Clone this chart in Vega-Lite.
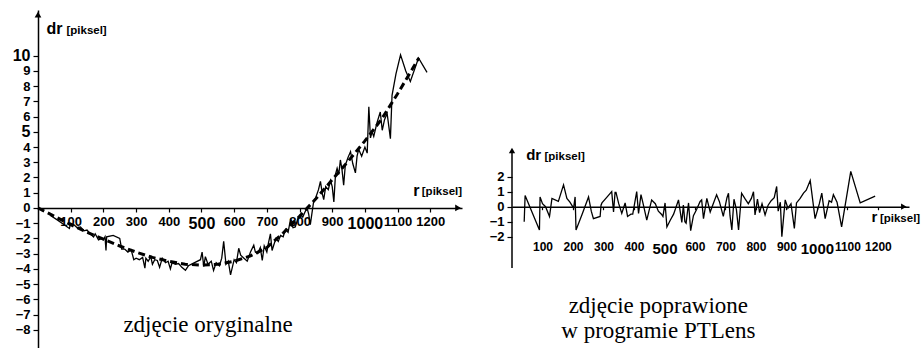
{
  "$schema": "https://vega.github.io/schema/vega-lite/v6.json",
  "padding": {"left": 12, "top": 10, "right": 0, "bottom": 0},
  "spacing": 26,
  "background": "white",
  "config": {
    "view": {"stroke": null},
    "axis": {"domainColor": "black", "tickColor": "black", "labelColor": "black", "labelFont": "Liberation Sans", "labelFontWeight": "bold", "grid": false, "title": null, "domainWidth": 1.5, "tickWidth": 1.2, "labelOverlap": false, "labelFlush": false, "format": "d", "tickCount": 40}
  },
  "datasets": {
    "trend": [
      {"r": 0, "dr": 0}, {"r": 50, "dr": -0.55}, {"r": 100, "dr": -1.1}, {"r": 150, "dr": -1.6}, {"r": 200, "dr": -2.05},
      {"r": 250, "dr": -2.5}, {"r": 300, "dr": -2.9}, {"r": 350, "dr": -3.25}, {"r": 400, "dr": -3.5}, {"r": 450, "dr": -3.7},
      {"r": 500, "dr": -3.75}, {"r": 550, "dr": -3.7}, {"r": 600, "dr": -3.5}, {"r": 650, "dr": -3.15}, {"r": 700, "dr": -2.6},
      {"r": 750, "dr": -1.65}, {"r": 800, "dr": -0.55}, {"r": 850, "dr": 0.6}, {"r": 900, "dr": 1.85}, {"r": 950, "dr": 3.1},
      {"r": 1000, "dr": 4.4}, {"r": 1050, "dr": 5.8}, {"r": 1100, "dr": 7.5}, {"r": 1150, "dr": 9.3}, {"r": 1165, "dr": 9.85}
    ],
    "orig": [
      {"r": 38, "dr": -0.5}, {"r": 60, "dr": -0.8}, {"r": 80, "dr": -1.1}, {"r": 96, "dr": -1.35}, {"r": 100, "dr": -1.0},
      {"r": 110, "dr": -1.1}, {"r": 120, "dr": -1.3}, {"r": 130, "dr": -1.25}, {"r": 140, "dr": -1.5}, {"r": 150, "dr": -1.45},
      {"r": 160, "dr": -1.7}, {"r": 170, "dr": -1.9}, {"r": 175, "dr": -1.7}, {"r": 185, "dr": -2.1}, {"r": 195, "dr": -2.0},
      {"r": 200, "dr": -2.1}, {"r": 205, "dr": -1.9}, {"r": 208, "dr": -2.8}, {"r": 210, "dr": -1.9}, {"r": 230, "dr": -1.8},
      {"r": 250, "dr": -2.0}, {"r": 256, "dr": -2.7}, {"r": 265, "dr": -2.7}, {"r": 275, "dr": -2.9}, {"r": 285, "dr": -2.75},
      {"r": 293, "dr": -3.4}, {"r": 300, "dr": -3.3}, {"r": 310, "dr": -3.4}, {"r": 320, "dr": -3.25}, {"r": 327, "dr": -3.95},
      {"r": 330, "dr": -3.3}, {"r": 337, "dr": -3.5}, {"r": 345, "dr": -3.2}, {"r": 350, "dr": -3.7}, {"r": 357, "dr": -3.4},
      {"r": 365, "dr": -3.45}, {"r": 372, "dr": -3.9}, {"r": 380, "dr": -3.3}, {"r": 390, "dr": -3.6}, {"r": 398, "dr": -3.5},
      {"r": 405, "dr": -4.0}, {"r": 410, "dr": -3.6}, {"r": 420, "dr": -3.7}, {"r": 430, "dr": -3.65}, {"r": 440, "dr": -3.9},
      {"r": 451, "dr": -4.1}, {"r": 460, "dr": -3.8}, {"r": 497, "dr": -3.4}, {"r": 502, "dr": -2.9}, {"r": 507, "dr": -3.85},
      {"r": 512, "dr": -3.2}, {"r": 520, "dr": -3.7}, {"r": 530, "dr": -3.5}, {"r": 537, "dr": -4.1}, {"r": 545, "dr": -3.6},
      {"r": 555, "dr": -3.8}, {"r": 562, "dr": -3.3}, {"r": 568, "dr": -2.2}, {"r": 575, "dr": -3.7}, {"r": 582, "dr": -3.5},
      {"r": 589, "dr": -4.4}, {"r": 600, "dr": -3.4}, {"r": 607, "dr": -3.6}, {"r": 614, "dr": -2.65}, {"r": 620, "dr": -3.1},
      {"r": 630, "dr": -3.3}, {"r": 640, "dr": -3.5}, {"r": 650, "dr": -2.9}, {"r": 660, "dr": -2.45}, {"r": 665, "dr": -2.9},
      {"r": 672, "dr": -3.0}, {"r": 680, "dr": -2.6}, {"r": 686, "dr": -3.45}, {"r": 692, "dr": -2.5}, {"r": 700, "dr": -2.9},
      {"r": 705, "dr": -2.3}, {"r": 711, "dr": -1.7}, {"r": 716, "dr": -2.8}, {"r": 721, "dr": -2.45}, {"r": 728, "dr": -2.0},
      {"r": 735, "dr": -2.2}, {"r": 742, "dr": -1.8}, {"r": 750, "dr": -1.9}, {"r": 757, "dr": -1.4}, {"r": 765, "dr": -1.6},
      {"r": 772, "dr": -0.8}, {"r": 780, "dr": -1.3}, {"r": 787, "dr": -1.25}, {"r": 795, "dr": -0.7}, {"r": 803, "dr": -0.45},
      {"r": 810, "dr": -0.6}, {"r": 816, "dr": -0.3}, {"r": 823, "dr": 0.0}, {"r": 828, "dr": -0.4}, {"r": 833, "dr": -1.1},
      {"r": 843, "dr": 0.4}, {"r": 850, "dr": 0.7}, {"r": 858, "dr": 1.2}, {"r": 864, "dr": 1.75}, {"r": 870, "dr": 0.9},
      {"r": 874, "dr": 0.55}, {"r": 880, "dr": 1.4}, {"r": 888, "dr": 1.2}, {"r": 895, "dr": 1.8}, {"r": 900, "dr": 1.4},
      {"r": 905, "dr": 0.4}, {"r": 910, "dr": 2.2}, {"r": 915, "dr": 2.6}, {"r": 920, "dr": 2.2}, {"r": 925, "dr": 3.15},
      {"r": 930, "dr": 2.5}, {"r": 935, "dr": 1.5}, {"r": 940, "dr": 2.8}, {"r": 948, "dr": 3.3}, {"r": 956, "dr": 3.7},
      {"r": 963, "dr": 2.9}, {"r": 971, "dr": 2.3}, {"r": 976, "dr": 3.4}, {"r": 981, "dr": 3.85}, {"r": 990, "dr": 3.4},
      {"r": 1000, "dr": 4.0}, {"r": 1007, "dr": 3.6}, {"r": 1012, "dr": 6.65}, {"r": 1017, "dr": 4.6}, {"r": 1022, "dr": 5.0},
      {"r": 1027, "dr": 4.7}, {"r": 1037, "dr": 5.6}, {"r": 1047, "dr": 6.3}, {"r": 1053, "dr": 5.1}, {"r": 1060, "dr": 5.8},
      {"r": 1068, "dr": 6.2}, {"r": 1078, "dr": 4.55}, {"r": 1083, "dr": 7.4}, {"r": 1095, "dr": 8.8}, {"r": 1109, "dr": 10.05},
      {"r": 1125, "dr": 9.0}, {"r": 1139, "dr": 8.3}, {"r": 1164, "dr": 9.85}, {"r": 1190, "dr": 8.9}
    ],
    "corr": [
      {"r": 40, "dr": -1.0}, {"r": 43, "dr": 0.75}, {"r": 90, "dr": -1.55}, {"r": 92, "dr": 0.65}, {"r": 100, "dr": 0.2},
      {"r": 110, "dr": 0.0}, {"r": 123, "dr": -0.65}, {"r": 131, "dr": 0.55}, {"r": 152, "dr": 0.35}, {"r": 169, "dr": 1.45},
      {"r": 180, "dr": 0.55}, {"r": 190, "dr": 0.3}, {"r": 202, "dr": -0.1}, {"r": 207, "dr": 0.65}, {"r": 210, "dr": -1.55},
      {"r": 230, "dr": -0.5}, {"r": 251, "dr": 0.65}, {"r": 260, "dr": -0.3}, {"r": 267, "dr": -0.8}, {"r": 289, "dr": -0.65},
      {"r": 292, "dr": 0.1}, {"r": 295, "dr": 0.25}, {"r": 310, "dr": 0.6}, {"r": 327, "dr": 1.0}, {"r": 333, "dr": -0.35},
      {"r": 338, "dr": 0.95}, {"r": 341, "dr": 0.95}, {"r": 350, "dr": 0.2}, {"r": 360, "dr": -0.45}, {"r": 371, "dr": 0.25},
      {"r": 379, "dr": -0.65}, {"r": 390, "dr": -0.5}, {"r": 396, "dr": -0.5}, {"r": 409, "dr": 1.0}, {"r": 415, "dr": -0.45},
      {"r": 423, "dr": 0.8}, {"r": 430, "dr": 0.2}, {"r": 442, "dr": -0.9}, {"r": 458, "dr": 0.45}, {"r": 470, "dr": 0.2},
      {"r": 480, "dr": -0.3}, {"r": 490, "dr": -0.5}, {"r": 495, "dr": -0.65}, {"r": 502, "dr": 0.25}, {"r": 508, "dr": -1.35},
      {"r": 519, "dr": -0.9}, {"r": 530, "dr": -0.5}, {"r": 546, "dr": 0.45}, {"r": 553, "dr": -0.5}, {"r": 557, "dr": -1.05},
      {"r": 562, "dr": 0.1}, {"r": 567, "dr": -1.0}, {"r": 571, "dr": -1.1}, {"r": 579, "dr": 0.25}, {"r": 586, "dr": -1.6},
      {"r": 595, "dr": -0.6}, {"r": 605, "dr": -0.2}, {"r": 617, "dr": 0.35}, {"r": 622, "dr": 0.45}, {"r": 628, "dr": -0.8},
      {"r": 639, "dr": 0.55}, {"r": 650, "dr": -0.35}, {"r": 660, "dr": 0.2}, {"r": 671, "dr": 0.8}, {"r": 680, "dr": 0.35},
      {"r": 693, "dr": -0.65}, {"r": 700, "dr": 0.1}, {"r": 705, "dr": 0.6}, {"r": 710, "dr": 0.9}, {"r": 715, "dr": -0.6},
      {"r": 721, "dr": -1.55}, {"r": 728, "dr": 0.5}, {"r": 736, "dr": -0.2}, {"r": 743, "dr": -1.55}, {"r": 753, "dr": 0.9},
      {"r": 765, "dr": 0.5}, {"r": 775, "dr": 0.2}, {"r": 785, "dr": 0.55}, {"r": 792, "dr": 1.0}, {"r": 797, "dr": -0.55},
      {"r": 805, "dr": 0.5}, {"r": 812, "dr": -0.4}, {"r": 820, "dr": 0.2}, {"r": 830, "dr": -0.55}, {"r": 840, "dr": 0.1},
      {"r": 850, "dr": 0.4}, {"r": 860, "dr": 0.6}, {"r": 868, "dr": 1.35}, {"r": 873, "dr": -0.3}, {"r": 880, "dr": 0.3},
      {"r": 885, "dr": -2.0}, {"r": 896, "dr": 0.45}, {"r": 905, "dr": -0.1}, {"r": 915, "dr": 0.2}, {"r": 926, "dr": -1.45},
      {"r": 933, "dr": 0.25}, {"r": 945, "dr": 0.55}, {"r": 956, "dr": 0.9}, {"r": 965, "dr": 1.1}, {"r": 978, "dr": 1.75},
      {"r": 994, "dr": -0.8}, {"r": 1008, "dr": 0.2}, {"r": 1016, "dr": 0.9}, {"r": 1027, "dr": -0.8}, {"r": 1040, "dr": 0.4},
      {"r": 1048, "dr": 0.3}, {"r": 1054, "dr": 0.8}, {"r": 1066, "dr": 0.3}, {"r": 1081, "dr": -1.35}, {"r": 1111, "dr": 2.35},
      {"r": 1142, "dr": 0.25}, {"r": 1191, "dr": 0.7}
    ]
  },
  "hconcat": [
    {
      "width": 424,
      "height": 338,
      "layer": [
        {
          "data": {"name": "trend"},
          "mark": {"type": "line", "color": "black", "strokeWidth": 3, "strokeDash": [7, 4]},
          "encoding": {
            "x": {"field": "r", "type": "quantitative", "scale": {"domain": [0, 1297], "nice": false, "zero": false},
              "axis": {"orient": "bottom", "offset": -140, "values": [100, 200, 300, 400, 500, 600, 700, 800, 900, 1000, 1100, 1200], "tickCount": 40, "tickSize": 4, "labelPadding": 3, "labelOverlap": false,
                "labelFontSize": {"condition": {"test": "datum.value === 500 || datum.value === 1000", "value": 16}, "value": 13}}},
            "y": {"field": "dr", "type": "quantitative", "scale": {"domain": [-9.2, 13], "nice": false, "zero": false},
              "axis": {"orient": "left", "values": [-8, -7, -6, -5, -4, -3, -2, -1, 0, 1, 2, 3, 4, 5, 6, 7, 8, 9, 10], "tickCount": 40, "tickSize": 5, "labelPadding": 3, "labelOverlap": false,
                "labelFontSize": {"condition": {"test": "datum.value === 5 || datum.value === 10", "value": 16}, "value": 13}}}
          }
        },
        {
          "data": {"name": "orig"},
          "mark": {"type": "line", "color": "black", "strokeWidth": 1.3},
          "encoding": {"x": {"field": "r", "type": "quantitative"}, "y": {"field": "dr", "type": "quantitative"}}
        },
        {
          "data": {"values": [{"r": 0, "dr": 12.7}]},
          "mark": {"type": "point", "shape": "triangle-up", "filled": true, "color": "black", "size": 45, "opacity": 1},
          "encoding": {"x": {"field": "r", "type": "quantitative"}, "y": {"field": "dr", "type": "quantitative"}}
        },
        {
          "data": {"values": [{"r": 1285, "dr": 0}]},
          "mark": {"type": "point", "shape": "triangle-right", "filled": true, "color": "black", "size": 45, "opacity": 1},
          "encoding": {"x": {"field": "r", "type": "quantitative"}, "y": {"field": "dr", "type": "quantitative"}}
        },
        {
          "data": {"values": [{"r": 26, "dr": 11.4, "t": "dr"}, {"r": 1148, "dr": 0.8, "t": "r"}]},
          "mark": {"type": "text", "align": "left", "baseline": "alphabetic", "font": "Liberation Sans", "fontWeight": "bold", "fontSize": 16, "color": "black"},
          "encoding": {"x": {"field": "r", "type": "quantitative"}, "y": {"field": "dr", "type": "quantitative"}, "text": {"field": "t"}}
        },
        {
          "data": {"values": [{"r": 87, "dr": 11.45, "t": "[piksel]"}, {"r": 1174, "dr": 0.85, "t": "[piksel]"}]},
          "mark": {"type": "text", "align": "left", "baseline": "alphabetic", "font": "Liberation Sans", "fontWeight": "bold", "fontSize": 11.5, "color": "black"},
          "encoding": {"x": {"field": "r", "type": "quantitative"}, "y": {"field": "dr", "type": "quantitative"}, "text": {"field": "t"}}
        },
        {
          "data": {"values": [{"r": 520, "dr": -8.14, "t": "zdjęcie oryginalne"}]},
          "mark": {"type": "text", "align": "center", "baseline": "alphabetic", "font": "'Liberation Serif', 'Times New Roman', serif", "fontSize": 23, "color": "black"},
          "encoding": {"x": {"field": "r", "type": "quantitative"}, "y": {"field": "dr", "type": "quantitative"}, "text": {"field": "t"}}
        }
      ]
    },
    {
      "width": 397,
      "height": 338,
      "layer": [
        {
          "data": {"name": "corr"},
          "mark": {"type": "line", "color": "black", "strokeWidth": 1.3},
          "encoding": {
            "x": {"field": "r", "type": "quantitative", "scale": {"domain": [0, 1302], "nice": false, "zero": false},
              "axis": {"orient": "bottom", "offset": -141.3, "values": [100, 200, 300, 400, 500, 600, 700, 800, 900, 1000, 1100, 1200], "tickCount": 40, "tickSize": 3, "labelPadding": 32, "labelOverlap": false,
                "labelFontSize": {"condition": {"test": "datum.value === 500 || datum.value === 1000", "value": 15}, "value": 12}}},
            "y": {"field": "dr", "type": "quantitative", "scale": {"domain": [-9.42, 13.11], "nice": false, "zero": false},
              "axis": {"orient": "left", "domain": false, "values": [-2, -1, 0, 1, 2], "tickCount": 40, "tickSize": 5, "labelPadding": 3, "labelFontSize": 13, "labelOverlap": false}}
          }
        },
        {
          "data": {"values": [{"r": 0, "y1": -4.09, "y2": 3.8}]},
          "mark": {"type": "rule", "color": "black", "strokeWidth": 1.5},
          "encoding": {"x": {"field": "r", "type": "quantitative"}, "y": {"field": "y1", "type": "quantitative"}, "y2": {"field": "y2"}}
        },
        {
          "data": {"values": [{"r": 0, "dr": 3.75}]},
          "mark": {"type": "point", "shape": "triangle-up", "filled": true, "color": "black", "size": 40, "opacity": 1},
          "encoding": {"x": {"field": "r", "type": "quantitative"}, "y": {"field": "dr", "type": "quantitative"}}
        },
        {
          "data": {"values": [{"r": 1285, "dr": 0}]},
          "mark": {"type": "point", "shape": "triangle-right", "filled": true, "color": "black", "size": 40, "opacity": 1},
          "encoding": {"x": {"field": "r", "type": "quantitative"}, "y": {"field": "dr", "type": "quantitative"}}
        },
        {
          "data": {"values": [{"r": 46.6, "dr": 3.11, "t": "dr"}, {"r": 1179, "dr": -1.02, "t": "r"}]},
          "mark": {"type": "text", "align": "left", "baseline": "alphabetic", "font": "Liberation Sans", "fontWeight": "bold", "fontSize": 15, "color": "black"},
          "encoding": {"x": {"field": "r", "type": "quantitative"}, "y": {"field": "dr", "type": "quantitative"}, "text": {"field": "t"}}
        },
        {
          "data": {"values": [{"r": 106.6, "dr": 3.11, "t": "[piksel]"}, {"r": 1206.6, "dr": -1.02, "t": "[piksel]"}]},
          "mark": {"type": "text", "align": "left", "baseline": "alphabetic", "font": "Liberation Sans", "fontWeight": "bold", "fontSize": 11.5, "color": "black"},
          "encoding": {"x": {"field": "r", "type": "quantitative"}, "y": {"field": "dr", "type": "quantitative"}, "text": {"field": "t"}}
        },
        {
          "data": {"values": [{"r": 480, "dr": -7.07, "t": "zdjęcie poprawione"}, {"r": 480, "dr": -8.77, "t": "w programie PTLens"}]},
          "mark": {"type": "text", "align": "center", "baseline": "alphabetic", "font": "'Liberation Serif', 'Times New Roman', serif", "fontSize": 23, "color": "black"},
          "encoding": {"x": {"field": "r", "type": "quantitative"}, "y": {"field": "dr", "type": "quantitative"}, "text": {"field": "t"}}
        }
      ]
    }
  ]
}
